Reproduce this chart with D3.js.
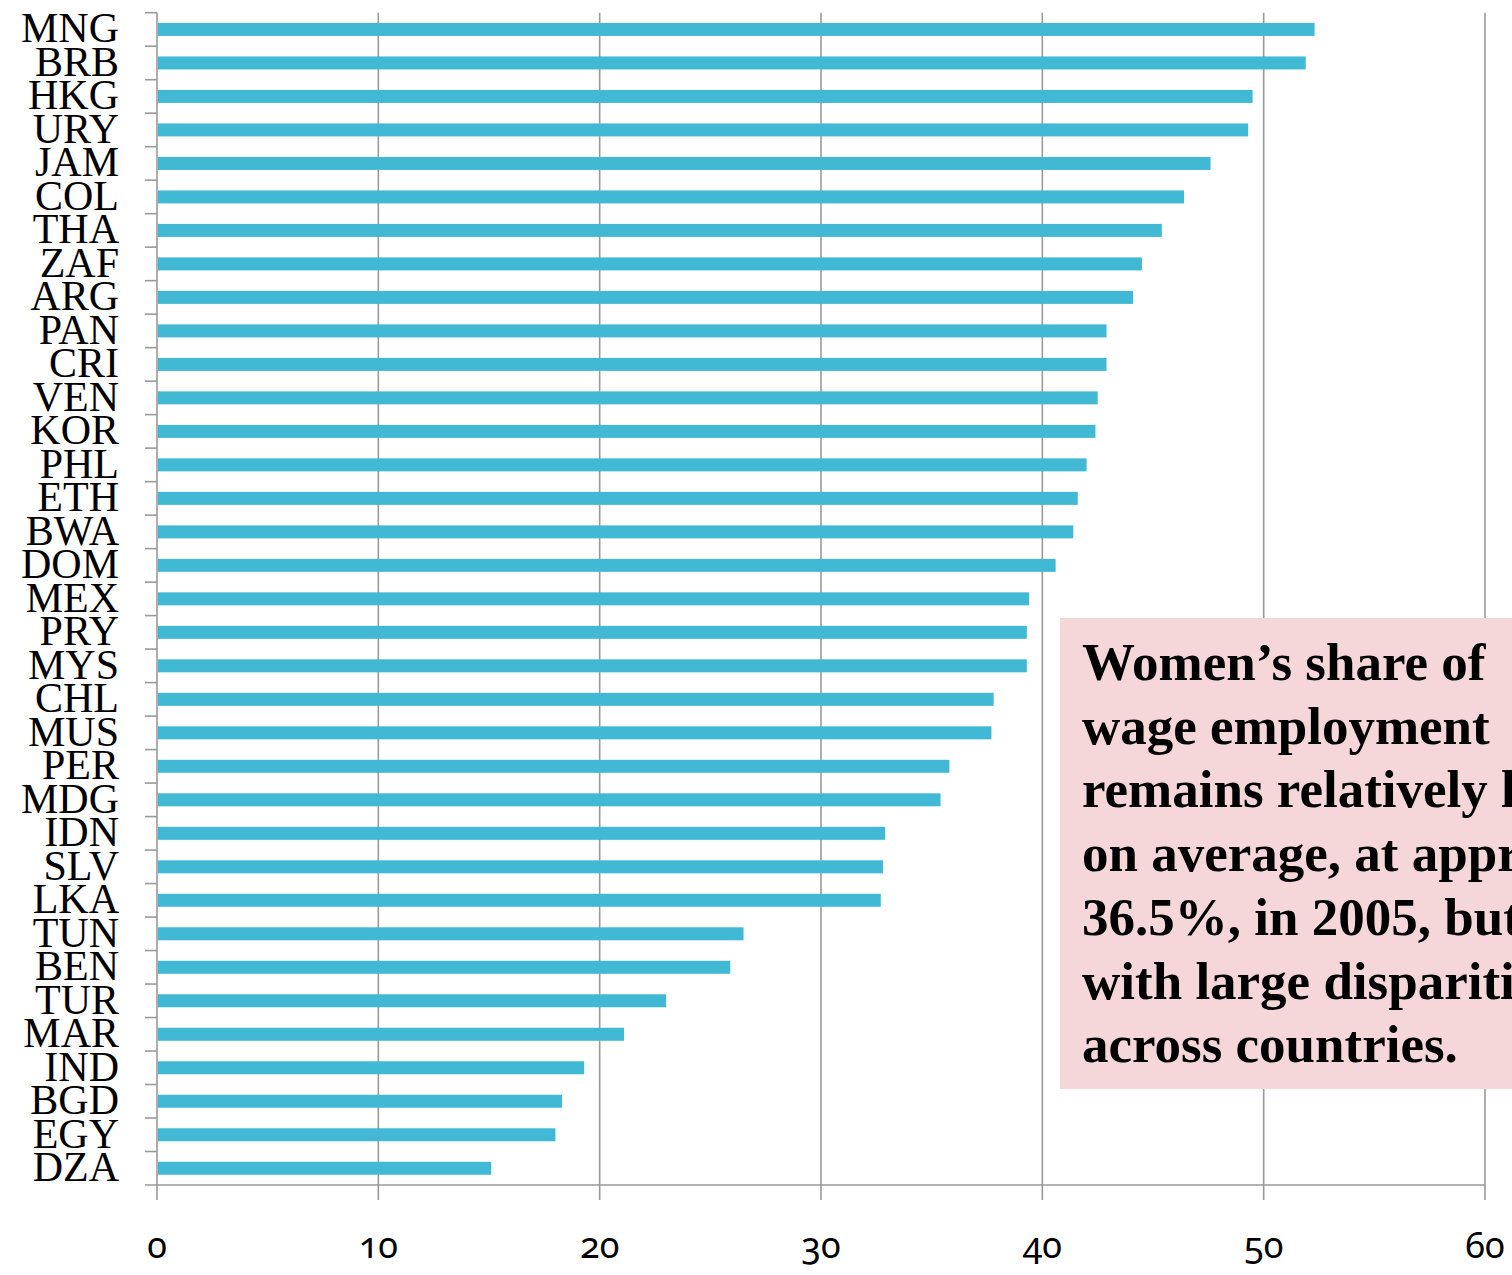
<!DOCTYPE html>
<html>
<head>
<meta charset="utf-8">
<script src="https://d3js.org/d3.v7.min.js"></script>
<style>
    body { margin: 0; overflow: hidden; background: #fff; }
    .catLabel { font-family: "Liberation Serif", "Times New Roman", serif; font-size: 42px; fill: #000; }
    .xLabel { font-family: "Noto Sans", sans-serif; font-size: 36px; fill: #000; font-variant-numeric: oldstyle-nums; }
    .note { font-family: "Liberation Serif", "Times New Roman", serif; font-size: 53px; font-weight: bold; fill: #000; }
</style>
</head>
<body>
<script>
(function () {

    var countries = ["MNG", "BRB", "HKG", "URY", "JAM", "COL", "THA", "ZAF", "ARG", "PAN",
        "CRI", "VEN", "KOR", "PHL", "ETH", "BWA", "DOM", "MEX", "PRY", "MYS",
        "CHL", "MUS", "PER", "MDG", "IDN", "SLV", "LKA", "TUN", "BEN", "TUR",
        "MAR", "IND", "BGD", "EGY", "DZA"];

    // women's share of wage employment (%)
    var shares = [52.3, 51.9, 49.5, 49.3, 47.6, 46.4, 45.4, 44.5, 44.1, 42.9,
        42.9, 42.5, 42.4, 42.0, 41.6, 41.4, 40.6, 39.4, 39.3, 39.3,
        37.8, 37.7, 35.8, 35.4, 32.9, 32.8, 32.7, 26.5, 25.9, 23.0,
        21.1, 19.3, 18.3, 18.0, 15.1];

    var xTicks = [0, 10, 20, 30, 40, 50, 60];

    var noteLines = ["Women\u2019s share of", "wage employment", "remains relatively low",
        "on average, at approximately", "36.5%, in 2005, but", "with large disparities",
        "across countries."];

    var width = 1512,
        height = 1275,
        left = 157,
        right = 1485,
        top = 12.7,
        bottom = 1185,
        barHeight = 13,
        gridColor = "#9a9a9a";

    var svg = d3.select("body")
        .append("svg")
        .attr("width", width)
        .attr("height", height);

    var x = d3.scaleLinear()
        .domain([0, 60])
        .range([left, right]);

    var y = d3.scaleBand()
        .domain(countries)
        .range([top, bottom])
        .padding(0);

    // vertical grid lines, running down past the axis as tick marks
    svg.selectAll(".grid")
        .data(xTicks)
        .enter()
        .append("line")
        .attr("class", "grid")
        .attr("x1", function (d) { return x(d); })
        .attr("x2", function (d) { return x(d); })
        .attr("y1", top)
        .attr("y2", bottom + 15)
        .style("stroke", gridColor)
        .style("stroke-width", 1.6);

    // y tick marks sit between the categories
    svg.selectAll(".ytick")
        .data(countries)
        .enter()
        .append("line")
        .attr("class", "ytick")
        .attr("x1", left - 12)
        .attr("x2", left)
        .attr("y1", function (d) { return y(d); })
        .attr("y2", function (d) { return y(d); })
        .style("stroke", gridColor)
        .style("stroke-width", 1.6);

    // bottom axis line
    svg.append("line")
        .attr("x1", left - 12)
        .attr("x2", right)
        .attr("y1", bottom)
        .attr("y2", bottom)
        .style("stroke", gridColor)
        .style("stroke-width", 1.6);

    var bars = svg.selectAll(".bar")
        .data(countries)
        .enter()
        .append("rect")
        .attr("class", "bar")
        .attr("x", x(0) + 1)
        .attr("y", function (d) { return y(d) + (y.bandwidth() - barHeight) / 2; })
        .attr("width", function (d, i) { return x(shares[i]) - x(0) - 1; })
        .attr("height", barHeight)
        .style("fill", "#41b9d4");

    svg.selectAll(".catLabel")
        .data(countries)
        .enter()
        .append("text")
        .attr("class", "catLabel")
        .attr("x", 119)
        .attr("y", function (d) { return y(d) + y.bandwidth() / 2 + 13; })
        .attr("text-anchor", "end")
        .text(function (d) { return d; });

    svg.selectAll(".xLabel")
        .data(xTicks)
        .enter()
        .append("text")
        .attr("class", "xLabel")
        .attr("x", function (d) { return x(d); })
        .attr("y", 1258)
        .attr("text-anchor", "middle")
        .text(function (d) { return d; });

    // annotation box, cut off by the right edge like the original
    svg.append("rect")
        .attr("x", 1060)
        .attr("y", 618)
        .attr("width", 500)
        .attr("height", 471)
        .style("fill", "#f5d6d9");

    svg.selectAll(".note")
        .data(noteLines)
        .enter()
        .append("text")
        .attr("class", "note")
        .attr("x", 1082)
        .attr("y", function (d, i) { return 680 + i * 63.7; })
        .text(function (d) { return d; });

})();
</script>
</body>
</html>
